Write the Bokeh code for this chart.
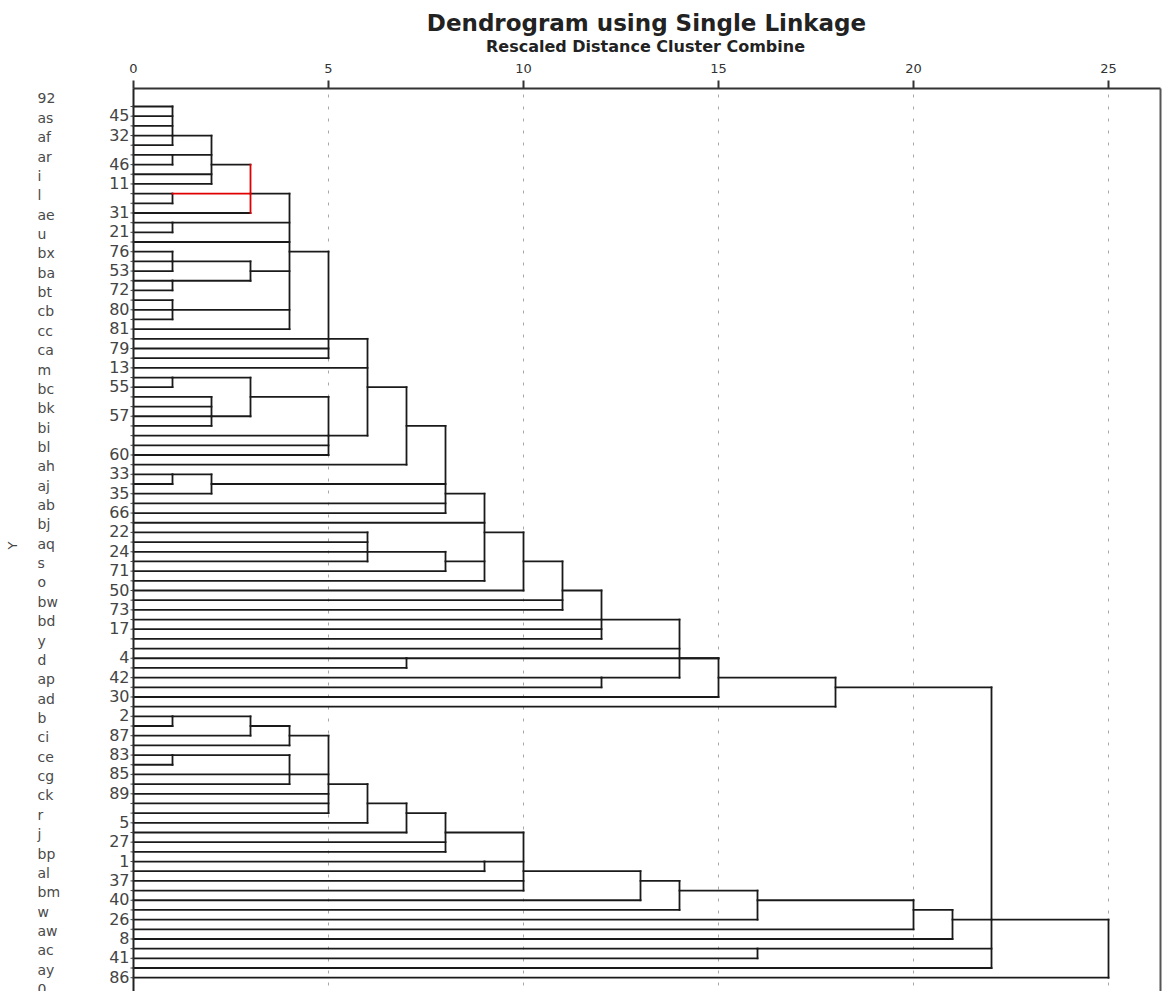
import math
from bokeh.plotting import figure
from bokeh.models import ColumnDataSource, Range1d
from bokeh.core.properties import value
from bokeh.embed import file_html
from bokeh.resources import INLINE

# ---------------- data ----------------
n_leaves = 91  # leaf rows 0..90, top to bottom

# merges: name, rescaled distance, children (leaf row ints or node names), row of outgoing link
node_names = ["A1", "A2", "B1", "A3", "C1", "A4", "A5", "A6", "C2", "A7", "D1", "E1",
              "A8", "B2", "C3", "E2", "F1", "G1", "A9", "B3", "H1", "F2", "H2", "I1",
              "J1", "K1", "L1", "G2", "L2", "N1", "O1", "P1",
              "A10", "C4", "D2", "A11", "D3", "E3", "F3", "G3", "H3", "I2", "J2",
              "M1", "N2", "Q1", "R1", "S1", "Q2", "T1", "U"]
node_heights = [1, 1, 2, 1, 3, 1, 1, 1, 3, 1, 4, 5,
                1, 2, 3, 5, 6, 7, 1, 2, 8, 6, 8, 9,
                10, 11, 12, 7, 12, 14, 15, 18,
                1, 3, 4, 1, 4, 5, 6, 7, 8, 9, 10,
                13, 14, 16, 20, 21, 16, 22, 25]
node_children = [
    [0, 1, 2, 3, 4], [5, 6], ["A1", "A2", 7, 8], [9, 10], ["B1", "A3", 11],
    [12, 13], [15, 16, 17], [18, 19], ["A5", "A6"], [20, 21, 22],
    ["C1", "A4", 14, "C2", "A7", 23], ["D1", 24, 25, 26],
    [28, 29], [30, 31, 32, 33], ["A8", "B2"], ["C3", 34, 35, 36], ["E1", 27, "E2"],
    ["F1", 37], [38, 39], ["A9", 40], ["G1", "B3", 41, 42], [44, 45, 46, 47],
    ["F2", 48], ["H1", 43, "H2", 49],
    ["I1", 50], ["J1", 51, 52], ["K1", 53, 54, 55], [57, 58], [59, 60],
    ["L1", 56, "L2"], ["N1", "G2", 61], ["O1", 62],
    [63, 64], ["A10", 65], ["C4", 66], [67, 68], ["A11", 69, 70],
    ["D2", "D3", 71, 72, 73], ["E3", 74], ["F3", 75], ["G3", 76, 77], [78, 79],
    ["H3", "I2", 80, 81],
    ["J2", 82], ["M1", 83], ["N2", 84], ["Q1", 85], ["R1", 86], [87, 88],
    ["P1", "S1", "Q2", 89], ["T1", 90]]
node_link_rows = [3, 5, 6, 9, 9, 12, 16, 18, 17, 21, 15, 24,
                  28, 32, 30, 34, 29, 33, 38, 39, 40, 46, 47, 44,
                  47, 50, 53, 57, 59, 57, 59, 60,
                  63, 64, 65, 67, 69, 70, 72, 73, 75, 78, 79,
                  80, 81, 82, 83, 84, 87, 84, 84]

letter_labels = ["92", "as", "af", "ar", "i", "l", "ae", "u", "bx", "ba", "bt", "cb", "cc",
                 "ca", "m", "bc", "bk", "bi", "bl", "ah", "aj", "ab", "bj", "aq", "s", "o",
                 "bw", "bd", "y", "d", "ap", "ad", "b", "ci", "ce", "cg", "ck", "r", "j",
                 "bp", "al", "bm", "w", "aw", "ac", "ay", "0"]
number_labels = ["45", "32", "46", "11", "31", "21", "76", "53", "72", "80", "81", "79",
                 "13", "55", "57", "60", "33", "35", "66", "22", "24", "71", "50", "73",
                 "17", "4", "42", "30", "2", "87", "83", "85", "89", "5", "27", "1", "37",
                 "40", "26", "8", "41", "86"]
number_label_rows = [1, 3, 6, 8, 11, 13, 15, 17, 19, 21, 23, 25, 27, 29, 32, 36, 38, 40,
                     42, 44, 46, 48, 50, 52, 54, 57, 59, 61, 63, 65, 67, 69, 71, 74, 76,
                     78, 80, 82, 84, 86, 88, 90]
axis_ticks = [0, 5, 10, 15, 20, 25]

title_text = "Dendrogram using Single Linkage"
subtitle_text = "Rescaled Distance Cluster Combine"
y_axis_label = "Y"

highlight_node = "C1"
highlight_child = "A3"

# ---------------- layout / styles ----------------
BLACK = "#1a1a1a"
RED = "#e00000"
FONT = "DejaVu Sans"
W, H = 1163, 991
PX_PER_UNIT = 39.0      # pixels per rescaled-distance unit
LEFT = 133              # pixel of distance 0
ROW_PX = 9.68           # pixels per leaf row
ROW0 = 106              # pixel of row 0


def px_x(px):
    return (px - LEFT) / PX_PER_UNIT


def px_y(py):
    return (py - ROW0) / ROW_PX


AX_TOP = px_y(88)
Y_BOTTOM = px_y(H)
X_RIGHT = px_x(1160)

# ---------------- tree segments ----------------
node_index = {n: i for i, n in enumerate(node_names)}


def child_pos(c):
    if isinstance(c, str):
        i = node_index[c]
        return node_heights[i], node_link_rows[i]
    return 0.0, c


blk = dict(x0=[], x1=[], y0=[], y1=[])
red = dict(x0=[], x1=[], y0=[], y1=[])
for name, h, ch, lr in zip(node_names, node_heights, node_children, node_link_rows):
    rows = []
    for c in ch:
        cx, cy = child_pos(c)
        rows.append(cy)
        tgt = red if (name == highlight_node and c == highlight_child) else blk
        tgt["x0"].append(cx); tgt["x1"].append(h); tgt["y0"].append(cy); tgt["y1"].append(cy)
    tgt = red if name == highlight_node else blk
    tgt["x0"].append(h); tgt["x1"].append(h); tgt["y0"].append(min(rows)); tgt["y1"].append(max(rows))

p = figure(width=W, height=H, x_range=Range1d(px_x(0), px_x(W)),
           y_range=Range1d(px_y(H), px_y(0)),
           x_axis_type=None, y_axis_type=None,
           output_backend="svg", toolbar_location=None, title=None,
           min_border_left=0, min_border_right=0, min_border_top=0, min_border_bottom=0)
p.background_fill_color = "white"
p.border_fill_color = "white"
p.outline_line_color = None
p.xgrid.visible = False
p.ygrid.visible = False

# dotted vertical grid lines
grid_ticks = [t for t in axis_ticks if t > 0]
p.segment(x0=grid_ticks, x1=grid_ticks, y0=[px_y(94)] * len(grid_ticks),
          y1=[Y_BOTTOM] * len(grid_ticks), line_color="#a8a8a8", line_width=1,
          line_dash="3 9")

# tree
p.segment(x0="x0", y0="y0", x1="x1", y1="y1", source=ColumnDataSource(blk),
          line_color=BLACK, line_width=1.8, line_cap="square")
p.segment(x0="x0", y0="y0", x1="x1", y1="y1", source=ColumnDataSource(red),
          line_color=RED, line_width=1.8, line_cap="square")

# top distance axis
p.segment(x0=[0], x1=[X_RIGHT], y0=[AX_TOP], y1=[AX_TOP], line_color="#333333", line_width=2)
p.segment(x0=axis_ticks, x1=axis_ticks, y0=[AX_TOP] * len(axis_ticks),
          y1=[px_y(80)] * len(axis_ticks), line_color="#333333", line_width=2)
p.text(x=axis_ticks, y=[px_y(68)] * len(axis_ticks), text=[str(t) for t in axis_ticks],
       text_align="center", text_baseline="middle", text_font=value(FONT),
       text_font_size="13px", text_color="#333333")

# left case axis with a stub per row, right border
p.segment(x0=[0], x1=[0], y0=[AX_TOP], y1=[Y_BOTTOM], line_color="#222222", line_width=2)
rows_all = list(range(n_leaves))
p.segment(x0=[px_x(130)] * n_leaves, x1=[0] * n_leaves, y0=rows_all, y1=rows_all,
          line_color="#444444", line_width=1)
p.segment(x0=[X_RIGHT], x1=[X_RIGHT], y0=[AX_TOP], y1=[Y_BOTTOM], line_color="#555555",
          line_width=2)

# case labels
p.text(x=[px_x(37)] * len(letter_labels), y=[2 * i - 0.83 for i in range(len(letter_labels))],
       text=letter_labels, text_align="left", text_baseline="middle",
       text_font=value(FONT), text_font_size="14px", text_color="#4a4a4a")
p.text(x=[px_x(129)] * len(number_labels), y=[r - 0.1 for r in number_label_rows],
       text=number_labels, text_align="right", text_baseline="middle",
       text_font=value(FONT), text_font_size="16px", text_color="#444444")

# titles
p.text(x=[px_x(646)], y=[px_y(22)], text=[title_text], text_align="center",
       text_baseline="middle", text_font=value(FONT), text_font_size="23px",
       text_font_style="bold", text_color="#222222")
p.text(x=[px_x(645)], y=[px_y(46)], text=[subtitle_text], text_align="center",
       text_baseline="middle", text_font=value(FONT), text_font_size="16px",
       text_font_style="bold", text_color="#222222")
p.text(x=[px_x(12)], y=[px_y(545)], text=[y_axis_label], angle=math.pi / 2,
       text_align="center", text_baseline="middle", text_font=value(FONT),
       text_font_size="13px", text_color="#444444")

open("out.html", "w").write(file_html(p, INLINE))
